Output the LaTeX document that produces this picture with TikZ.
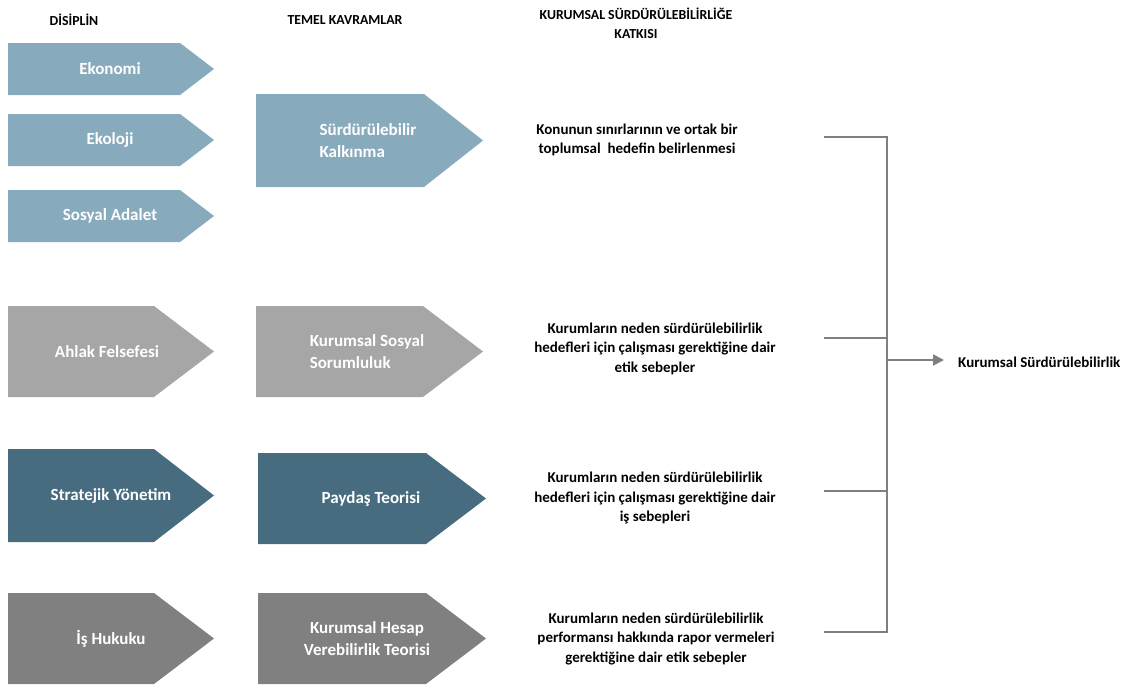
\documentclass[tikz,border=0pt]{standalone}
\usepackage{fontspec}
\setmainfont{Carlito}
\usetikzlibrary{arrows.meta}
\definecolor{paleblue}{HTML}{88AABD}
\definecolor{lightgrey}{HTML}{A6A6A6}
\definecolor{slateteal}{HTML}{476C80}
\definecolor{darkgrey}{HTML}{808080}
\definecolor{linegrey}{HTML}{7F7F7F}
% chevron: left, top, bottom, body end, tip, colour
\newcommand\chevron[6]{\fill[#6] (#1,#2) -- (#4,#2) -- (#5,{(#2+#3)/2}) -- (#4,#3) -- (#1,#3) -- cycle;}
\begin{document}
\begin{tikzpicture}[x=1pt,y=-1pt,
  boxlabel/.style={text=white,font=\fontsize{17}{22}\selectfont\bfseries,inner sep=0pt},
  bodytext/.style={font=\fontsize{15}{19.5}\selectfont\bfseries,align=center,inner sep=0pt},
  header/.style={font=\fontsize{13.8}{19}\selectfont\bfseries,align=center,inner sep=0pt},
  bracket/.style={draw=linegrey,line width=2.6pt,line join=miter},
  outarrow/.style={draw=linegrey,line width=1.8pt,-{Triangle[length=11pt,width=11pt]}}]
\useasboundingbox (0,0) rectangle (1126,688);

% column headers
\node[header] (h1) at (74,20) {DİSİPLİN};
\node[header] (h2) at (345,20) {TEMEL KAVRAMLAR};
\node[header] (h3) at (636,23.5) {KURUMSAL SÜRDÜRÜLEBİLİRLİĞE\\KATKISI};

% disciplines
\chevron{8}{43}{95}{180}{214}{paleblue}
\node[boxlabel] (eko) at (110,69) {Ekonomi};
\chevron{8}{114}{166}{180}{214}{paleblue}
\node[boxlabel] (ekol) at (110,140) {Ekoloji};
\chevron{8}{190}{242}{180}{214}{paleblue}
\node[boxlabel] (sos) at (110,216) {Sosyal Adalet};
\chevron{8}{306}{397}{154}{214}{lightgrey}
\node[boxlabel] (ahl) at (107,351.5) {Ahlak Felsefesi};
\chevron{8}{449}{542}{154}{214}{slateteal}
\node[boxlabel] (str) at (111,495.5) {Stratejik Yönetim};
\chevron{8}{593}{684}{154}{214}{darkgrey}
\node[boxlabel] (huk) at (111,638.5) {İş Hukuku};

% core concepts
\chevron{256}{94}{187}{424}{483}{paleblue}
\node[boxlabel,align=left] (sk) at (368,140.5) {Sürdürülebilir\\Kalkınma};
\chevron{256}{306}{397}{423}{483}{lightgrey}
\node[boxlabel,align=left] (kss) at (367,351.5) {Kurumsal Sosyal\\Sorumluluk};
\chevron{258}{453}{544}{426}{486}{slateteal}
\node[boxlabel] (pt) at (371,498.5) {Paydaş Teorisi};
\chevron{258}{593}{684}{426}{486}{darkgrey}
\node[boxlabel,align=center] (hvt) at (367,638.5) {Kurumsal Hesap\\Verebilirlik Teorisi};

% contributions
\node[bodytext] (c1) at (637,140) {Konunun sınırlarının ve ortak bir\\toplumsal\ \ hedefin belirlenmesi};
\node[bodytext] (c2) at (655,348.5) {Kurumların neden sürdürülebilirlik\\hedefleri için çalışması gerektiğine dair\\etik sebepler};
\node[bodytext] (c3) at (655,498) {Kurumların neden sürdürülebilirlik\\hedefleri için çalışması gerektiğine dair\\iş sebepleri};
\node[bodytext] (c4) at (656,638.5) {Kurumların neden sürdürülebilirlik\\performansı hakkında rapor vermeleri\\gerektiğine dair etik sebepler};

% outcome
\node[bodytext,anchor=west] (res) at (958,362) {Kurumsal Sürdürülebilirlik};

% bracket joining the contributions
\coordinate (b1) at (824,137);
\coordinate (b2) at (824,338);
\coordinate (b3) at (824,491);
\coordinate (b4) at (824,632);
\coordinate (s1) at (887,137);
\coordinate (s2) at (887,338);
\coordinate (s3) at (887,491);
\coordinate (s4) at (887,632);
\coordinate (hub) at (887,360);
\draw[bracket] (b1) -- (s1) -- (s4) -- (b4);
\draw[bracket] (b2) -- (s2);
\draw[bracket] (b3) -- (s3);
\draw[outarrow,shorten >=14pt] (hub) -- (res.west |- hub);
\end{tikzpicture}
\end{document}
